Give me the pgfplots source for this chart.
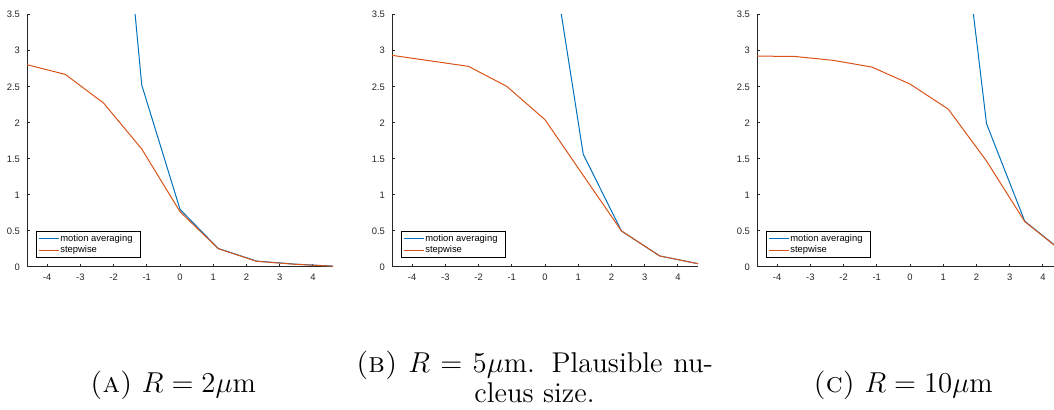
\documentclass[border=0pt]{standalone}
\usepackage{fontspec}
\usepackage{pgfplots}
\pgfplotsset{compat=1.18}
\newfontfamily\mlfont{Liberation Sans}
\definecolor{mlblue}{rgb}{0,0.447,0.741}
\definecolor{mlorange}{rgb}{0.85,0.325,0.098}
\definecolor{mlgray}{rgb}{0.15,0.15,0.15}
\newcommand\tickfont{\mlfont\fontsize{4.7}{5}\selectfont}

\pgfplotsset{
  panel/.style={
    scale only axis, width=153pt, height=126.15pt,
    anchor=south west,
    xmin=-4.6052, xmax=4.6052, ymin=0, ymax=3.5,
    xtick={-4,-3,-2,-1,0,1,2,3,4},
    ytick={0,0.5,1,1.5,2,2.5,3,3.5},
    axis lines*=left, tick align=inside,
    axis line style={mlgray, line width=0.5pt},
    major tick style={mlgray, line width=0.5pt}, major tick length=1.5pt,
    tick label style={font=\tickfont, text=mlgray},
    /pgf/number format/assume math mode=true,
    legend cell align=left,
    legend style={at={(0.0294,0.0345)}, anchor=south west, draw=black, fill=white,
      line width=0.4pt, font=\tickfont, inner xsep=1.2pt, inner ysep=1.2pt,
      row sep=0.8pt, nodes={inner sep=0.3pt, text height=3.4pt, text depth=1pt}},
    legend image code/.code={\draw[#1] (0pt,0pt) -- (10pt,0pt);},
    every axis plot/.append style={line width=0.5pt},
  }
}

\begin{document}
\begin{tikzpicture}
\useasboundingbox (0,0) rectangle (527pt,205pt);
\clip (0,0) rectangle (527pt,205pt);

% (A) R = 2 um
\begin{axis}[panel, at={(13.5pt,71.5pt)}]
\addplot[mlblue] coordinates {(-2.3026,8.18) (-1.1513,2.524) (0,0.80) (1.1513,0.257) (2.3026,0.082) (3.4539,0.040) (4.6052,0.012)};
\addlegendentry{\makebox[38.5pt][l]{motion averaging}}
\addplot[mlorange] coordinates {(-4.6052,2.806) (-3.4539,2.672) (-2.3026,2.275) (-1.1513,1.637) (0,0.767) (1.1513,0.254) (2.3026,0.079) (3.4539,0.038) (4.6052,0.010)};
\addlegendentry{\makebox[38.5pt][l]{stepwise}}
\end{axis}

% (B) R = 5 um
\begin{axis}[panel, at={(196pt,71.5pt)}]
\addplot[mlblue] coordinates {(0,4.95) (1.1513,1.563) (2.3026,0.499) (3.4539,0.153) (4.6052,0.046)};
\addlegendentry{\makebox[38.5pt][l]{motion averaging}}
\addplot[mlorange] coordinates {(-4.6052,2.936) (-3.4539,2.86) (-2.3026,2.783) (-1.1513,2.506) (0,2.043) (1.1513,1.27) (2.3026,0.499) (3.4539,0.153) (4.6052,0.046)};
\addlegendentry{\makebox[38.5pt][l]{stepwise}}
\end{axis}

% (C) R = 10 um
\begin{axis}[panel, at={(378.5pt,71.5pt)}]
\addplot[mlblue] coordinates {(1.1513,6.43) (2.3026,1.988) (3.4539,0.635) (4.6052,0.21)};
\addlegendentry{\makebox[38.5pt][l]{motion averaging}}
\addplot[mlorange] coordinates {(-4.6052,2.926) (-3.4539,2.92) (-2.3026,2.866) (-1.1513,2.774) (0,2.538) (1.1513,2.19) (2.3026,1.47) (3.4539,0.629) (4.6052,0.206)};
\addlegendentry{\makebox[38.5pt][l]{stepwise}}
\end{axis}

\begin{scope}[every node/.style={font=\fontsize{14.3}{17}\selectfont, inner sep=0pt}]
\node[anchor=base] at (86.5pt,8.5pt) {\textsc{(a)} $R=2\mu$m};
\node[anchor=base] at (267.25pt,18.5pt) {\makebox[178.5pt][s]{\textsc{(b)} $R = 5\mu$m. Plausible nu-}};
\node[anchor=base] at (267.25pt,3.5pt) {cleus size.};
\node[anchor=base] at (451.5pt,8.5pt) {\textsc{(c)} $R=10\mu$m};
\end{scope}
\end{tikzpicture}
\end{document}
